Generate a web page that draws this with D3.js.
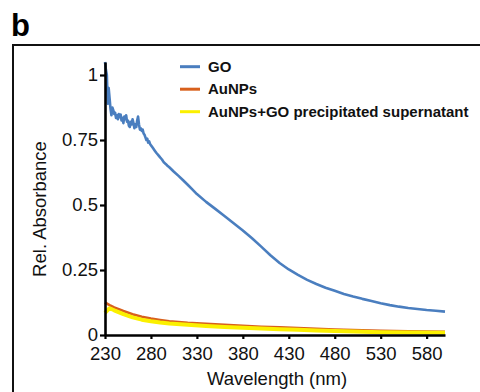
<!DOCTYPE html>
<html>
<head>
<meta charset="utf-8">
<script src="https://cdn.jsdelivr.net/npm/d3@7"></script>
<style>
  body { margin: 0; background: #fff; }
  text { font-family: Arial, "Liberation Sans", sans-serif; }
</style>
</head>
<body>
<div id="chart"></div>
<script>
// wavelength (nm) and relative absorbance
const goWave = [230, 231, 232, 233, 234, 235, 236, 237, 238, 239, 240, 241, 242, 243, 244, 245, 246, 247, 248, 249,
  250, 251, 252, 253, 254, 255, 256, 257, 258, 259, 260, 261, 262, 263, 264, 265, 266, 267, 268, 269,
  270, 271, 272, 273, 274, 275, 276, 277, 278, 279, 280, 282, 284, 286, 288, 290, 292, 294, 296, 298,
  300, 305, 310, 315, 320, 325, 330, 340, 350, 360, 370, 380, 390, 400, 410, 420, 430, 440, 450, 460,
  470, 480, 490, 500, 510, 520, 530, 540, 550, 560, 570, 580, 590, 600];
const goAbs = [1.05, 1.02, 1.0, 0.89, 0.95, 0.91, 0.87, 0.845, 0.875, 0.865, 0.85, 0.855, 0.835, 0.845, 0.83, 0.85, 0.838, 0.848, 0.825, 0.835,
  0.815, 0.84, 0.83, 0.845, 0.82, 0.825, 0.805, 0.80, 0.82, 0.81, 0.83, 0.815, 0.795, 0.81, 0.80, 0.825, 0.84, 0.81, 0.79, 0.795,
  0.785, 0.79, 0.775, 0.77, 0.76, 0.75, 0.755, 0.74, 0.745, 0.735, 0.73, 0.72, 0.71, 0.70, 0.692, 0.683, 0.675, 0.664, 0.658, 0.651,
  0.645, 0.628, 0.612, 0.595, 0.578, 0.56, 0.542, 0.512, 0.485, 0.458, 0.43, 0.402, 0.372, 0.34, 0.307, 0.277, 0.252, 0.231, 0.212, 0.196,
  0.182, 0.17, 0.158, 0.148, 0.139, 0.131, 0.122, 0.115, 0.109, 0.104, 0.10, 0.096, 0.093, 0.09];

const npWave = [230, 235, 240, 250, 260, 270, 280, 290, 300, 320, 340, 360, 380, 400, 420, 440, 460, 480, 500, 530, 560, 600];
const auAbs = [0.125, 0.115, 0.106, 0.092, 0.080, 0.070, 0.063, 0.058, 0.053, 0.047, 0.043, 0.039, 0.035, 0.032, 0.030, 0.027, 0.024, 0.021, 0.019, 0.016, 0.014, 0.012];
const supAbs = [0.085, 0.103, 0.095, 0.080, 0.068, 0.059, 0.053, 0.048, 0.044, 0.039, 0.035, 0.031, 0.028, 0.025, 0.022, 0.020, 0.017, 0.015, 0.013, 0.011, 0.010, 0.009];

const xTicks = [230, 280, 330, 380, 430, 480, 530, 580];
const yTicks = [0, 0.25, 0.5, 0.75, 1];
const seriesNames = ["GO", "AuNPs", "AuNPs+GO precipitated supernatant"];
const seriesColors = ["#4a7ebf", "#d8601c", "#fbf000"];

const W = 480, H = 392;
const svg = d3.select("#chart").append("svg")
  .attr("width", W)
  .attr("height", H);

// panel frame
svg.append("rect")
  .attr("x", 13).attr("y", 45)
  .attr("width", 480).attr("height", 400)
  .attr("fill", "none")
  .attr("stroke", "#111")
  .attr("stroke-width", 2);

svg.append("text")
  .attr("x", 11).attr("y", 36)
  .attr("font-size", 31)
  .attr("font-weight", "bold")
  .text("b");

const x = d3.scaleLinear().domain([230, 600]).range([105, 445]);
const y = d3.scaleLinear().domain([0, 1.05]).range([335, 62]);

const line = d3.line()
  .x(d => x(d[0]))
  .y(d => y(d[1]));

const series = [
  { data: d3.zip(goWave, goAbs), color: seriesColors[0], w: 2.6 },
  { data: d3.zip(npWave, auAbs), color: seriesColors[1], w: 2.6 },
  { data: d3.zip(npWave, supAbs), color: seriesColors[2], w: 4 }
];

series.forEach(s => {
  svg.append("path")
    .datum(s.data)
    .attr("fill", "none")
    .attr("stroke", s.color)
    .attr("stroke-width", s.w)
    .attr("stroke-linejoin", "round")
    .attr("d", line);
});

// X Axis
const gx = svg.append("g")
  .attr("transform", `translate(0,${y(0)})`)
  .call(d3.axisBottom(x).tickValues(xTicks).tickSize(4).tickSizeOuter(0).tickPadding(8));

// Y Axis
const gy = svg.append("g")
  .attr("transform", `translate(${x(230)},0)`)
  .call(d3.axisLeft(y).tickValues(yTicks).tickSize(5).tickSizeOuter(0).tickPadding(2)
    .tickFormat(d => String(d)));

[gx, gy].forEach(g => {
  g.select(".domain").attr("stroke", "#000").attr("stroke-width", 2.6);
  g.selectAll(".tick line").attr("stroke", "#000").attr("stroke-width", 2.2);
  g.selectAll(".tick text")
    .attr("font-size", 18.5)
    .attr("font-family", "Arial, 'Liberation Sans', sans-serif")
    .attr("fill", "#111");
});

svg.append("text")
  .attr("x", 277).attr("y", 385)
  .attr("text-anchor", "middle")
  .attr("font-size", 18.5)
  .attr("fill", "#111")
  .text("Wavelength (nm)");

svg.append("text")
  .attr("transform", "translate(46,209) rotate(-90)")
  .attr("text-anchor", "middle")
  .attr("font-size", 18.5)
  .attr("fill", "#111")
  .text("Rel. Absorbance");

// Legend
const legend = svg.append("g");
seriesNames.forEach((name, i) => {
  const ly = 66.7 + i * 22.5;
  legend.append("line")
    .attr("x1", 180).attr("x2", 200)
    .attr("y1", ly).attr("y2", ly)
    .attr("stroke", seriesColors[i])
    .attr("stroke-width", 3);
  legend.append("text")
    .attr("x", 208).attr("y", ly + 5)
    .attr("font-size", 15)
    .attr("font-weight", "bold")
    .attr("fill", "#111")
    .text(name);
});
</script>
</body>
</html>
